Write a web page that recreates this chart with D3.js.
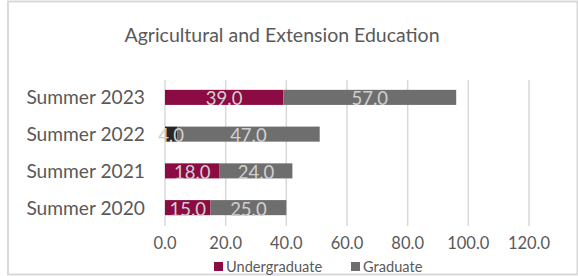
<!DOCTYPE html>
<html>
<head>
<meta charset="utf-8">
<script src="https://cdn.jsdelivr.net/npm/d3@7"></script>
<style>
  body { margin: 0; background: #fff; }
  svg text { font-family: Lato, "Open Sans", sans-serif; }
</style>
</head>
<body>
<svg id="chart" width="578" height="276"></svg>
<script>
const categories = ['Summer 2023', 'Summer 2022', 'Summer 2021', 'Summer 2020'];
const undergraduate = [39, 4, 18, 15];
const graduate = [57, 47, 24, 25];
const xTicks = [0, 20, 40, 60, 80, 100, 120];
const seriesNames = ['Undergraduate', 'Graduate'];

const W = 578, H = 276;
const svg = d3.select('#chart');

// chart frame
svg.append('rect')
  .attr('x', 8).attr('y', 1.5)
  .attr('width', W - 8.5).attr('height', H - 3)
  .attr('fill', '#fff')
  .attr('stroke', '#d9d9d9')
  .attr('stroke-width', 2);

svg.append('text')
  .attr('x', 282).attr('y', 42)
  .attr('text-anchor', 'middle')
  .attr('fill', '#595959')
  .attr('font-size', 19.5)
  .text('Agricultural and Extension Education');

const x = d3.scaleLinear().domain([0, 120]).range([165, 529]);
const y = d3.scaleBand().domain(categories).range([79, 226]).paddingInner(0.59).paddingOuter(0.295);

// gridlines
svg.append('g')
  .selectAll('line')
  .data(xTicks)
  .enter()
  .append('line')
  .attr('x1', (d) => x(d)).attr('x2', (d) => x(d))
  .attr('y1', 80).attr('y2', 226)
  .attr('stroke', '#d9d9d9')
  .attr('stroke-width', 1.5);

// x tick labels
svg.append('g')
  .selectAll('text')
  .data(xTicks)
  .enter()
  .append('text')
  .attr('x', (d) => x(d))
  .attr('y', 249)
  .attr('text-anchor', 'middle')
  .attr('fill', '#595959')
  .attr('font-size', 16.5)
  .text((d) => d.toFixed(1));

// category labels
svg.append('g')
  .selectAll('text')
  .data(categories)
  .enter()
  .append('text')
  .attr('x', 145)
  .attr('y', (d) => y(d) + y.bandwidth() / 2 + 7)
  .attr('text-anchor', 'end')
  .attr('fill', '#595959')
  .attr('font-size', 19.2)
  .text((d) => d);

const rows = categories.map((c, i) => ({ cat: c, ug: undergraduate[i], gr: graduate[i] }));
const ugColor = (d) => (d.cat === 'Summer 2022' ? '#262626' : '#8c0b42');

const segs = [];
rows.forEach((d) => {
  segs.push({ cat: d.cat, x0: 0, x1: d.ug, v: d.ug, fill: ugColor(d) });
  segs.push({ cat: d.cat, x0: d.ug, x1: d.ug + d.gr, v: d.gr, fill: '#6e6e6e' });
});

svg.append('g')
  .selectAll('rect')
  .data(segs)
  .enter()
  .append('rect')
  .attr('x', (d) => x(d.x0))
  .attr('y', (d) => y(d.cat))
  .attr('width', (d) => x(d.x1) - x(d.x0))
  .attr('height', y.bandwidth())
  .attr('fill', (d) => d.fill);

svg.append('g')
  .selectAll('text')
  .data(segs)
  .enter()
  .append('text')
  .attr('x', (d) => x((d.x0 + d.x1) / 2))
  .attr('y', (d) => y(d.cat) + y.bandwidth() / 2 + 8)
  .attr('text-anchor', 'middle')
  .attr('fill', '#d0d0d0')
  .attr('font-size', 18.5)
  .text((d) => d.v.toFixed(1));

// legend
const legendX = [214, 351];
const lg = svg.append('g')
  .selectAll('g')
  .data(seriesNames)
  .enter()
  .append('g')
  .attr('transform', (d, i) => `translate(${legendX[i]},262)`);
lg.append('rect')
  .attr('width', 9).attr('height', 9)
  .attr('fill', (d, i) => (i === 0 ? '#8c0b42' : '#6e6e6e'));
lg.append('text')
  .attr('x', 12).attr('y', 10)
  .attr('fill', '#595959')
  .attr('font-size', 14.6)
  .text((d) => d);
</script>
</body>
</html>
